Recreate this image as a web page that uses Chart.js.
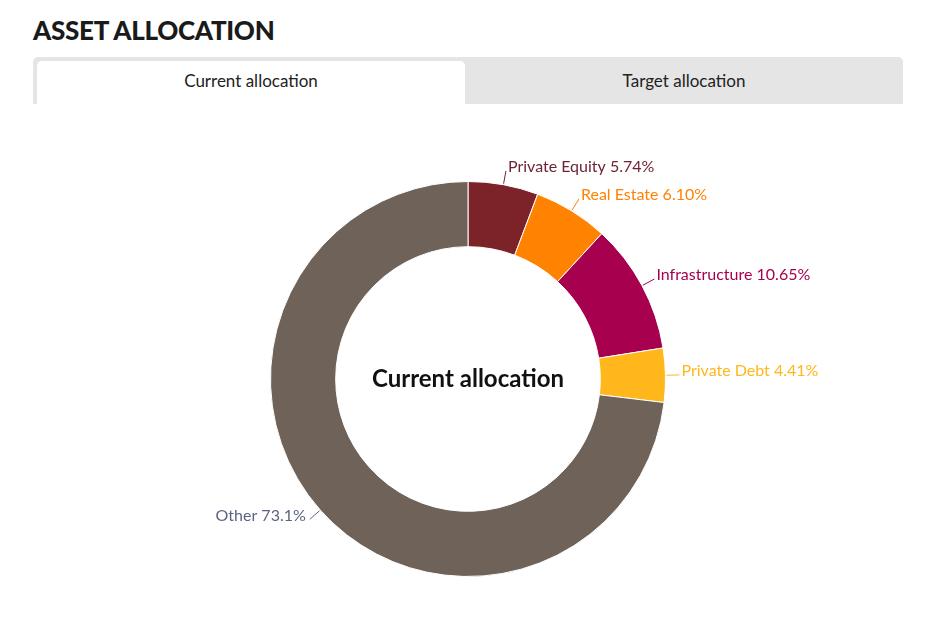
<!DOCTYPE html>
<html>
<head>
<meta charset="utf-8">
<script src="https://cdn.jsdelivr.net/npm/chart.js@4"></script>
<style>
  body { margin: 0; background: #fff; font-family: Lato, "Open Sans", sans-serif; }
  h1 { position: absolute; left: 33px; top: 14px; margin: 0; font-size: 26px; font-weight: 900; color: #1a1a1a; letter-spacing: -0.3px; }
  .tabs { position: absolute; left: 33px; top: 57px; width: 870px; height: 47px; background: #e5e5e5; border-radius: 5px 5px 0 0; }
  .tab { position: absolute; top: 4px; height: 43px; line-height: 39px; text-align: center; font-size: 17px; font-weight: 400; color: #222; }
  .tab.active { left: 4px; width: 428px; background: #fff; border-radius: 5px 5px 0 0; }
  .tab.other { left: 432px; width: 438px; }
  .wrap { position: absolute; left: 0; top: 103px; width: 944px; height: 522px; }
</style>
</head>
<body>
<h1>ASSET ALLOCATION</h1>
<div class="tabs">
  <div class="tab active">Current allocation</div>
  <div class="tab other">Target allocation</div>
</div>
<div class="wrap"><canvas id="chart"></canvas></div>
<script>
const categories = ['Private Equity', 'Real Estate', 'Infrastructure', 'Private Debt', 'Other'];
const values = [5.74, 6.10, 10.65, 4.41, 73.1];
const valueLabels = ['5.74%', '6.10%', '10.65%', '4.41%', '73.1%'];
const colors = ['#7b2328', '#ff8300', '#a6004f', '#ffb71b', '#6e6259'];
const labelColors = ['#6e2434', '#ff8300', '#a6004f', '#ffb71b', '#5c6580'];

const outsideLabels = {
    id: 'outsideLabels',
    afterDatasetsDraw(chart) {
        const ctx = chart.ctx;
        const meta = chart.getDatasetMeta(0);
        ctx.save();
        ctx.font = '16px Lato, sans-serif';
        ctx.textBaseline = 'middle';
        meta.data.forEach((arc, i) => {
            const mid = (arc.startAngle + arc.endAngle) / 2;
            const r = arc.outerRadius;
            const cos = Math.cos(mid), sin = Math.sin(mid);
            const x1 = arc.x + cos * (r + 1), y1 = arc.y + sin * (r + 1);
            const x2 = arc.x + cos * (r + 14), y2 = arc.y + sin * (r + 14);
            const right = cos >= 0;
            ctx.strokeStyle = labelColors[i];
            ctx.lineWidth = 1;
            ctx.beginPath();
            ctx.moveTo(x1, y1);
            ctx.lineTo(x2, y2);
            ctx.stroke();
            ctx.fillStyle = labelColors[i];
            ctx.textAlign = right ? 'left' : 'right';
            ctx.fillText(categories[i] + ' ' + valueLabels[i], x2 + (right ? 2 : -4), y2 - 4);
        });
        // centre text
        ctx.font = 'bold 24px Lato, sans-serif';
        ctx.fillStyle = '#111';
        ctx.textAlign = 'center';
        ctx.fillText('Current allocation', meta.data[0].x, meta.data[0].y);
        ctx.restore();
    }
};

new Chart(document.getElementById('chart'), {
    type: 'doughnut',
    data: {
        labels: categories,
        datasets: [{
            data: values,
            backgroundColor: colors,
            borderColor: '#ffffff',
            borderWidth: 1
        }]
    },
    options: {
        responsive: true,
        maintainAspectRatio: false,
        animation: false,
        cutout: '67%',
        layout: { padding: { left: 0, right: 8, top: 78, bottom: 48 } },
        plugins: {
            legend: { display: false },
            tooltip: { enabled: false }
        }
    },
    plugins: [outsideLabels]
});
</script>
</body>
</html>
